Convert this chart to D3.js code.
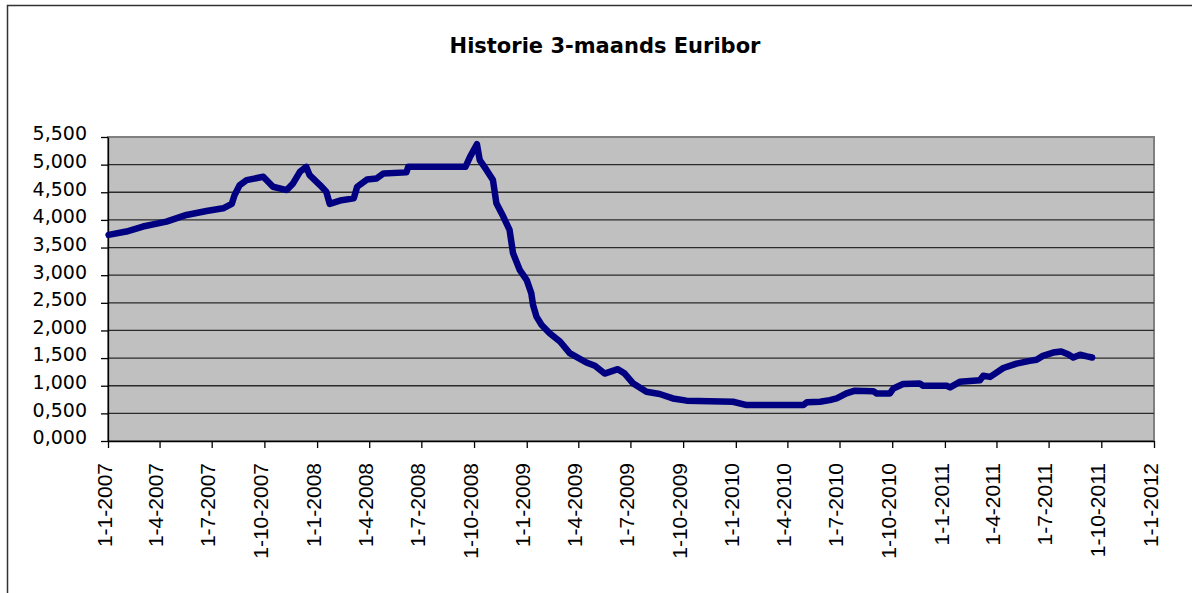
<!DOCTYPE html>
<html>
<head>
<meta charset="utf-8">
<script src="https://cdn.jsdelivr.net/npm/d3@7"></script>
<style>
  body { margin: 0; background: #fff; }
  svg { display: block; }
</style>
</head>
<body>
<div id="chart"></div>
<script>
// 3-maands Euribor, waarden
const dates = [
  "2007-01-02", "2007-02-02", "2007-03-03", "2007-04-13", "2007-05-18", "2007-06-22",
  "2007-07-21", "2007-08-05", "2007-08-10", "2007-08-19", "2007-08-31", "2007-09-29",
  "2007-10-16", "2007-11-09", "2007-11-20", "2007-12-02", "2007-12-13", "2007-12-19",
  "2008-01-06", "2008-01-17", "2008-01-23", "2008-02-10", "2008-03-05", "2008-03-11",
  "2008-03-28", "2008-04-14", "2008-04-26", "2008-06-05", "2008-06-08", "2008-09-16",
  "2008-09-24", "2008-10-06", "2008-10-11", "2008-10-23", "2008-11-03", "2008-11-09",
  "2008-11-21", "2008-12-02", "2008-12-08", "2008-12-20", "2009-01-01", "2009-01-09",
  "2009-01-12", "2009-01-18", "2009-01-27", "2009-02-10", "2009-02-28", "2009-03-17",
  "2009-04-15", "2009-04-30", "2009-05-17", "2009-06-09", "2009-06-21", "2009-07-06",
  "2009-07-29", "2009-08-21", "2009-09-13", "2009-10-07", "2009-12-27", "2010-01-20",
  "2010-04-29", "2010-05-05", "2010-05-28", "2010-06-14", "2010-06-26", "2010-07-13",
  "2010-07-28", "2010-08-29", "2010-09-04", "2010-09-27", "2010-10-03", "2010-10-20",
  "2010-11-18", "2010-11-24", "2011-01-04", "2011-01-10", "2011-01-27", "2011-03-03",
  "2011-03-09", "2011-03-21", "2011-04-13", "2011-05-06", "2011-05-29", "2011-06-10",
  "2011-06-21", "2011-07-09", "2011-07-23", "2011-08-04", "2011-08-13", "2011-08-25",
  "2011-09-06", "2011-09-15"
];
const rates = [
  3.73, 3.79, 3.88, 3.97, 4.09, 4.16,
  4.21, 4.29, 4.45, 4.63, 4.72, 4.78,
  4.60, 4.54, 4.66, 4.87, 4.96, 4.81,
  4.63, 4.51, 4.29, 4.35, 4.39, 4.60,
  4.73, 4.75, 4.84, 4.86, 4.96, 4.96,
  5.14, 5.37, 5.08, 4.90, 4.72, 4.30,
  4.06, 3.82, 3.40, 3.09, 2.91, 2.67,
  2.46, 2.25, 2.10, 1.95, 1.80, 1.59,
  1.42, 1.36, 1.22, 1.30, 1.22, 1.04,
  0.89, 0.85, 0.77, 0.73, 0.71, 0.65,
  0.65, 0.70, 0.71, 0.74, 0.77, 0.86,
  0.91, 0.90, 0.86, 0.86, 0.95, 1.03,
  1.04, 1.00, 1.00, 0.97, 1.07, 1.10,
  1.18, 1.16, 1.32, 1.40, 1.45, 1.47,
  1.54, 1.60, 1.62, 1.57, 1.51, 1.56,
  1.53, 1.51
];
const yTicks = [0, 0.5, 1, 1.5, 2, 2.5, 3, 3.5, 4, 4.5, 5, 5.5];
const xTicks = [
  "2007-01-01", "2007-04-01", "2007-07-01", "2007-10-01",
  "2008-01-01", "2008-04-01", "2008-07-01", "2008-10-01",
  "2009-01-01", "2009-04-01", "2009-07-01", "2009-10-01",
  "2010-01-01", "2010-04-01", "2010-07-01", "2010-10-01",
  "2011-01-01", "2011-04-01", "2011-07-01", "2011-10-01",
  "2012-01-01"
];
const title = "Historie 3-maands Euribor";

const parse = d3.utcParse("%Y-%m-%d");
const series = dates.map((d, i) => ({date: parse(d), value: rates[i]}));

const W = 1192, H = 593;
const plot = {left: 108, right: 1154, top: 137, bottom: 441};

const nl = d3.formatLocale({decimal: ",", thousands: ".", grouping: [3], currency: ["€", ""]});
const fmtY = nl.format(".3f");
const fmtX = d3.utcFormat("%-d-%-m-%Y");

const svg = d3.select("#chart").append("svg")
    .attr("width", W)
    .attr("height", H);

// chart border (loopt rechts en onder buiten beeld)
svg.append("rect")
    .attr("x", 7.5).attr("y", 5.5)
    .attr("width", 1250).attr("height", 650)
    .attr("fill", "#fff")
    .attr("stroke", "#333")
    .attr("stroke-width", 1.5);

svg.append("text")
    .attr("x", 605)
    .attr("y", 53)
    .attr("text-anchor", "middle")
    .attr("font-family", "DejaVu Sans, Verdana, sans-serif")
    .attr("font-weight", "bold")
    .attr("font-size", "21px")
    .attr("fill", "#000")
    .text(title);

let x = d3.scaleUtc()
    .domain([parse(xTicks[0]), parse(xTicks[xTicks.length - 1])])
    .range([plot.left, plot.right]);

let y = d3.scaleLinear()
    .domain([0, 5.5])
    .range([plot.bottom, plot.top]);

// plot area
svg.append("rect")
    .attr("x", plot.left).attr("y", plot.top)
    .attr("width", plot.right - plot.left)
    .attr("height", plot.bottom - plot.top)
    .attr("fill", "#c0c0c0")
    .attr("stroke", "#808080")
    .attr("stroke-width", 2);

svg.append("g")
    .selectAll("line")
    .data(yTicks.filter(v => v > 0 && v < 5.5))
    .enter()
    .append("line")
    .attr("x1", plot.left)
    .attr("x2", plot.right)
    .attr("y1", d => y(d))
    .attr("y2", d => y(d))
    .attr("stroke", "#2a2a2a")
    .attr("stroke-width", 1.3);

let y_axis = d3.axisLeft(y)
    .tickValues(yTicks)
    .tickFormat(fmtY)
    .tickSize(7)
    .tickSizeOuter(0)
    .tickPadding(14);

let gy = svg.append("g")
    .attr("transform", "translate(" + plot.left + ",0)")
    .call(y_axis);
gy.selectAll("text")
    .attr("font-family", "DejaVu Sans, Verdana, sans-serif")
    .attr("font-size", "19px")
    .attr("fill", "#000")
    .attr("dy", "0.15em");
gy.selectAll("line, path").attr("stroke", "#000").attr("stroke-width", 1.3);

let x_axis = d3.axisBottom(x)
    .tickValues(xTicks.map(parse))
    .tickFormat(fmtX)
    .tickSize(7)
    .tickSizeOuter(0);

let gx = svg.append("g")
    .attr("transform", "translate(0," + plot.bottom + ")")
    .call(x_axis);
gx.selectAll("text")
    .attr("font-family", "'Liberation Sans', Arial, sans-serif")
    .attr("font-size", "21px")
    .attr("fill", "#000")
    .attr("transform", "rotate(-90)")
    .attr("text-anchor", "end")
    .attr("x", -22)
    .attr("y", 0)
    .attr("dy", "0.15em");
gx.selectAll("line, path").attr("stroke", "#000").attr("stroke-width", 1.3);

let line = d3.line()
    .x(d => x(d.date))
    .y(d => y(d.value));

svg.append("path")
    .datum(series)
    .attr("d", line)
    .attr("fill", "none")
    .attr("stroke", "#000080")
    .attr("stroke-width", 6.5)
    .attr("stroke-linejoin", "round")
    .attr("stroke-linecap", "round");
</script>
</body>
</html>
